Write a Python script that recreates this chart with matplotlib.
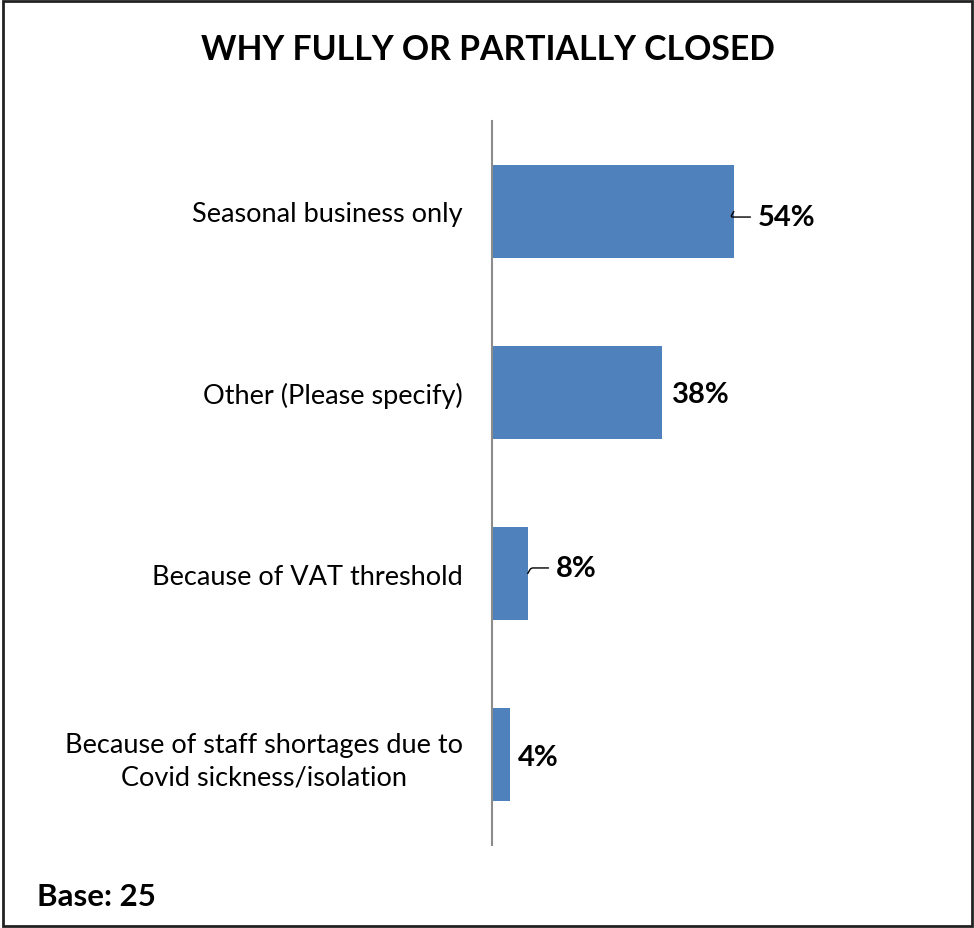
import matplotlib.pyplot as plt
from matplotlib.patches import Rectangle

plt.rcParams['font.family'] = ['Lato', 'DejaVu Sans']

reasons = ['Seasonal business only',
           'Other (Please specify)',
           'Because of VAT threshold',
           'Because of staff shortages due to\nCovid sickness/isolation']
share = [54, 38, 8, 4]
# label offsets in points (dx, dy); a leader line is drawn when moved away
label_shift = [(17, -4), (7, -1), (20, 4), (6, -2)]
leader = [True, False, True, False]

fig = plt.figure(figsize=(9.74, 9.29), dpi=100)
ax = fig.add_axes([0.505, 0.0893, 0.46, 0.7794])

ypos = list(range(len(reasons)))
ax.barh(ypos, share, height=0.51, color='#4F81BD')
ax.set_xlim(0, 100)
ax.set_ylim(len(reasons) - 0.5, -0.5)

ax.set_yticks(ypos)
ax.set_yticklabels(reasons, fontsize=19.5, ha='right', multialignment='center',
                   linespacing=1.35)
ax.tick_params(axis='y', length=0, pad=21)
ax.set_xticks([])
for s in ['top', 'right', 'bottom']:
    ax.spines[s].set_visible(False)
ax.spines['left'].set_color('#8c8c8c')
ax.spines['left'].set_linewidth(1.5)

for y, v, (dx, dy), ld in zip(ypos, share, label_shift, leader):
    if ld:
        ax.annotate(f'{v}%', xy=(v, y), xytext=(dx, dy), textcoords='offset points',
                    fontsize=21, fontweight='bold', va='center', ha='left',
                    arrowprops=dict(arrowstyle='-', color='black', lw=1,
                                    shrinkA=3, shrinkB=0,
                                    connectionstyle='angle,angleA=0,angleB=60,rad=2'))
    else:
        ax.annotate(f'{v}%', xy=(v, y), xytext=(dx, dy), textcoords='offset points',
                    fontsize=21, fontweight='bold', va='center', ha='left')

fig.text(0.501, 0.946, 'WHY FULLY OR PARTIALLY CLOSED', fontsize=24.3,
         fontweight='bold', ha='center', va='center')
fig.text(0.038, 0.034, 'Base: 25', fontsize=22.5, fontweight='bold',
         ha='left', va='center')

# frame around the whole figure
fig.patches.append(Rectangle((0.003, 0.002), 0.995, 0.996, transform=fig.transFigure,
                             fill=False, edgecolor='#222222', linewidth=2))

fig.savefig('out.png', dpi=100, facecolor='white')
